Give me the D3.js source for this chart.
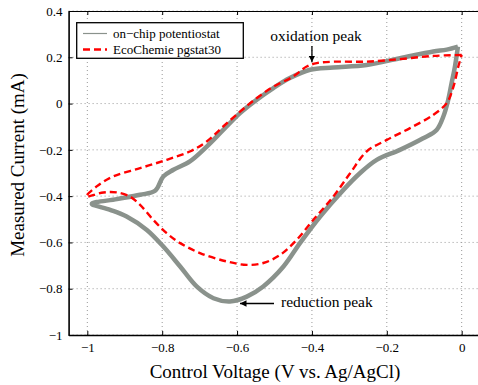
<!DOCTYPE html>
<html>
<head>
<meta charset="utf-8">
<script src="https://cdn.jsdelivr.net/npm/d3@7"></script>
<style>
  body { margin: 0; background: #fff; }
  svg text { font-family: "Liberation Serif", "DejaVu Serif", serif; }
</style>
</head>
<body>
<div id="chart"></div>
<script>
// on-chip potentiostat (gray, noisy trace)
const chipV = [-0.010, -0.018, -0.027, -0.036, -0.049, -0.067, -0.103, -0.165, -0.227, -0.272, -0.316, -0.378, -0.432, -0.476, -0.530, -0.574, -0.619, -0.663, -0.708, -0.752, -0.797, -0.841, -0.895, -0.939, -0.988,
  -0.921, -0.859, -0.819, -0.797, -0.770, -0.726, -0.681, -0.637, -0.592, -0.548, -0.503, -0.459, -0.405, -0.343, -0.254, -0.165, -0.076, -0.040, -0.010];
const chipI = [0.246, 0.160, 0.088, 0.016, -0.056, -0.114, -0.150, -0.200, -0.243, -0.301, -0.373, -0.488, -0.603, -0.704, -0.790, -0.834, -0.855, -0.841, -0.790, -0.704, -0.618, -0.546, -0.488, -0.459, -0.433,
  -0.413, -0.394, -0.377, -0.315, -0.286, -0.250, -0.186, -0.114, -0.041, 0.016, 0.067, 0.110, 0.146, 0.156, 0.167, 0.196, 0.225, 0.233, 0.246];

// EcoChemie pgstat30 (red dashed)
const ecoV = [0.000, -0.076, -0.165, -0.254, -0.343, -0.387, -0.414, -0.450, -0.503, -0.548, -0.592, -0.637, -0.681, -0.726, -0.788, -0.859, -0.931, -0.975, -1.003,
  -0.957, -0.921, -0.886, -0.859, -0.824, -0.788, -0.752, -0.699, -0.628, -0.574, -0.530, -0.485, -0.441, -0.396, -0.343, -0.298, -0.254, -0.200, -0.138, -0.076, -0.040, -0.022, -0.009, 0.000];
const ecoI = [0.210, 0.206, 0.192, 0.181, 0.181, 0.175, 0.160, 0.117, 0.073, 0.023, -0.035, -0.099, -0.164, -0.207, -0.243, -0.279, -0.315, -0.358, -0.402,
  -0.384, -0.384, -0.402, -0.438, -0.502, -0.560, -0.603, -0.646, -0.682, -0.697, -0.689, -0.654, -0.589, -0.502, -0.402, -0.301, -0.207, -0.157, -0.106, -0.049, 0.002, 0.073, 0.160, 0.210];

const xTicks = [-1, -0.8, -0.6, -0.4, -0.2, 0];
const yTicks = [-1, -0.8, -0.6, -0.4, -0.2, 0, 0.2, 0.4];
const seriesNames = ["on\u2212chip potentiostat", "EcoChemie pgstat30"];

const W = 478, H = 385;
const serif = "'Liberation Serif', 'DejaVu Serif', serif";
const svg = d3.select("#chart").append("svg").attr("width", W).attr("height", H)
  .attr("font-family", serif);

const x = d3.scaleLinear().domain([-1.05, 0.05]).range([68.6, 480.4]);
const y = d3.scaleLinear().domain([-1, 0.4]).range([335, 11]);
const fmt = d3.format("~g");

// grid
svg.append("g").selectAll("line").data(xTicks).join("line")
  .attr("x1", d => x(d)).attr("x2", d => x(d)).attr("y1", y(-1)).attr("y2", y(0.4))
  .attr("stroke", "#999").attr("stroke-width", 1).attr("stroke-dasharray", "1,3");
svg.append("g").selectAll("line").data(yTicks).join("line")
  .attr("x1", x.range()[0]).attr("x2", W).attr("y1", d => y(d)).attr("y2", d => y(d))
  .attr("stroke", "#999").attr("stroke-width", 1).attr("stroke-dasharray", "1,3");

// axes
const xAxis = svg.append("g").attr("transform", `translate(0,${y(-1)})`)
  .call(d3.axisBottom(x).tickValues(xTicks).tickFormat(fmt).tickSizeInner(-4).tickSizeOuter(0).tickPadding(8));
const yAxis = svg.append("g").attr("transform", `translate(${x.range()[0]},0)`)
  .call(d3.axisLeft(y).tickValues(yTicks).tickFormat(fmt).tickSizeInner(-4).tickSizeOuter(0).tickPadding(6));
const xTop = svg.append("g").attr("transform", `translate(0,${y(0.4)})`)
  .call(d3.axisTop(x).tickValues(xTicks).tickFormat("").tickSizeInner(-4).tickSizeOuter(0));
[xAxis, yAxis].forEach(g => {
  g.attr("font-family", serif).attr("font-size", 13);
  g.select(".domain").attr("stroke", "#000").attr("stroke-width", 1.6);
  g.selectAll(".tick line").attr("stroke", "#000");
  g.selectAll(".tick text").attr("fill", "#000");
});
xTop.select(".domain").attr("stroke", "#000").attr("stroke-width", 1.2);
xTop.selectAll(".tick line").attr("stroke", "#000");

// curves
const line = d3.line().x(d => x(d[0])).y(d => y(d[1])).curve(d3.curveCatmullRom.alpha(0.5));
const chip = chipV.map((v, i) => [v, chipI[i]]);
const eco = ecoV.map((v, i) => [v, ecoI[i]]);

svg.append("path").datum(chip).attr("d", line)
  .attr("fill", "none").attr("stroke", "#8a928c").attr("stroke-width", 4.5)
  .attr("stroke-linejoin", "round");
svg.append("path").datum(eco).attr("d", line)
  .attr("fill", "none").attr("stroke", "#ff0000").attr("stroke-width", 2.4)
  .attr("stroke-dasharray", "7,4");

// annotations
svg.append("defs").append("marker").attr("id", "ah")
  .attr("viewBox", "0 0 10 10").attr("refX", 10).attr("refY", 5)
  .attr("markerWidth", 5).attr("markerHeight", 5).attr("orient", "auto")
  .append("path").attr("d", "M0,0 L10,5 L0,10 z").attr("fill", "#000");

svg.append("text").attr("x", 316).attr("y", 41).attr("text-anchor", "middle")
  .attr("font-size", 15.5).text("oxidation peak");
svg.append("line").attr("x1", x(-0.4)).attr("x2", x(-0.4)).attr("y1", 46).attr("y2", 62)
  .attr("stroke", "#000").attr("stroke-width", 1.3).attr("marker-end", "url(#ah)");

svg.append("text").attr("x", 281).attr("y", 307)
  .attr("font-size", 15.5).text("reduction peak");
svg.append("line").attr("x1", 274).attr("x2", 240).attr("y1", 303.5).attr("y2", 303.5)
  .attr("stroke", "#000").attr("stroke-width", 1.3).attr("marker-end", "url(#ah)");

// legend
const lg = svg.append("g");
lg.append("rect").attr("x", 76.7).attr("y", 22.7).attr("width", 166.6).attr("height", 35.6)
  .attr("fill", "#fff").attr("stroke", "#000").attr("stroke-width", 1.3);
const ly = [33.5, 49.5];
lg.append("line").attr("x1", 83).attr("x2", 107).attr("y1", ly[0]).attr("y2", ly[0])
  .attr("stroke", "#8a928c").attr("stroke-width", 1.2);
lg.append("line").attr("x1", 83).attr("x2", 107).attr("y1", ly[1]).attr("y2", ly[1])
  .attr("stroke", "#ff0000").attr("stroke-width", 2.4).attr("stroke-dasharray", "7,4");
lg.selectAll("text").data(seriesNames).join("text")
  .attr("x", 113).attr("y", (d, i) => ly[i] + 4.5).attr("font-size", 13).text(d => d);

// axis titles
svg.append("text").attr("x", 275).attr("y", 378).attr("text-anchor", "middle")
  .attr("font-size", 19).text("Control Voltage (V vs. Ag/AgCl)");
svg.append("text").attr("transform", "translate(24,165) rotate(-90)").attr("text-anchor", "middle")
  .attr("font-size", 19).text("Measured Current (mA)");
</script>
</body>
</html>
